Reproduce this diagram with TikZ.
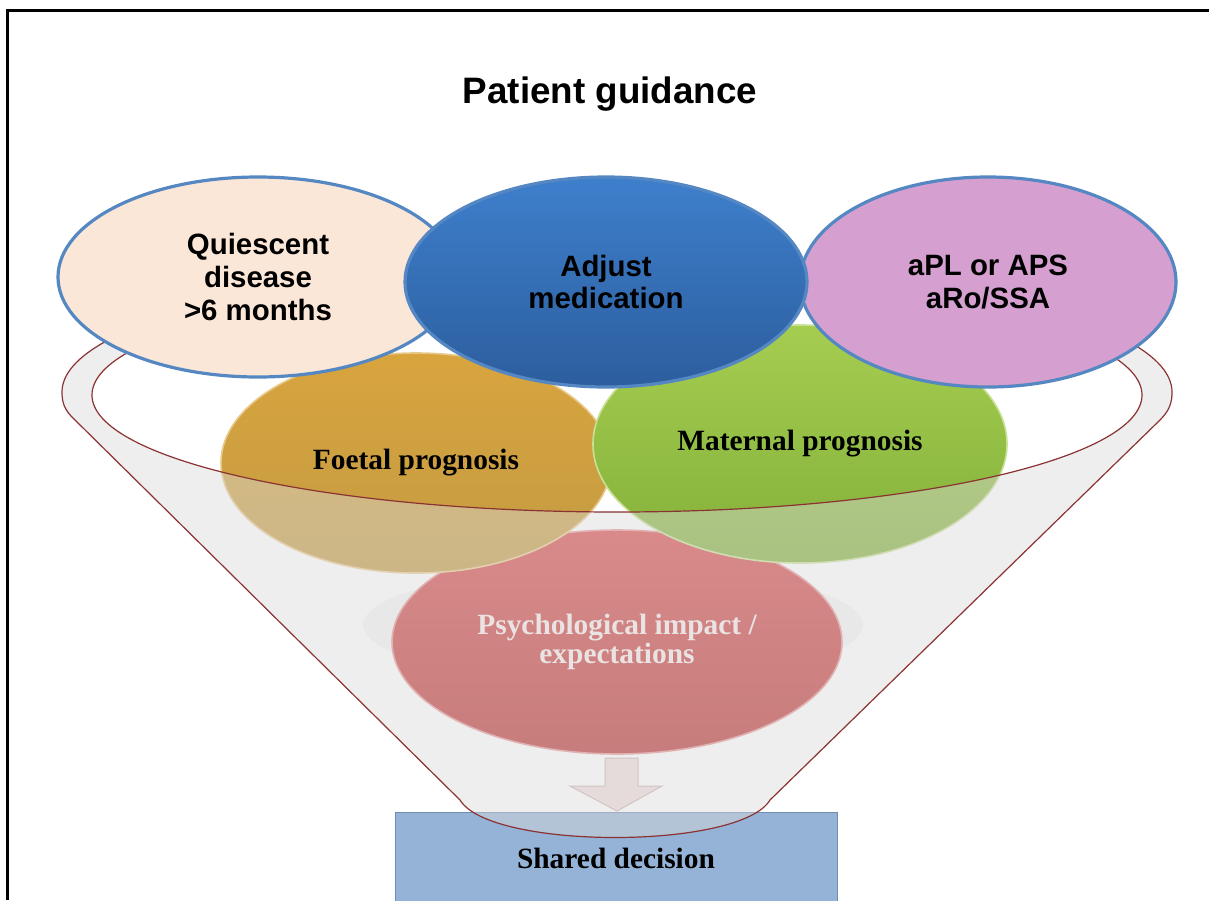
\documentclass[tikz,border=0pt]{standalone}
\usepackage{fontspec}
\setmainfont{Liberation Serif}
\setsansfont{Liberation Sans}
\usepackage{tikz}
\usetikzlibrary{shapes,arrows,positioning}

\definecolor{peach}{RGB}{251,231,216}
\definecolor{rimblue}{RGB}{85,135,195}
\definecolor{blueup}{RGB}{62,127,204}
\definecolor{bluedown}{RGB}{44,94,158}
\definecolor{orchid}{RGB}{213,160,208}
\definecolor{goldup}{RGB}{216,164,62}
\definecolor{golddown}{RGB}{195,155,67}
\definecolor{leafup}{RGB}{165,205,80}
\definecolor{leafdown}{RGB}{131,176,58}
\definecolor{roseup}{RGB}{218,73,73}
\definecolor{rosedown}{RGB}{185,49,49}
\definecolor{rosetext}{RGB}{248,236,236}
\definecolor{funnelgray}{RGB}{217,217,217}
\definecolor{funnelred}{RGB}{139,50,50}
\definecolor{shadegray}{RGB}{246,246,246}
\definecolor{arrowpink}{RGB}{242,222,221}
\definecolor{arrowedge}{RGB}{205,178,178}
\definecolor{boxblue}{RGB}{149,179,215}
\definecolor{boxedge}{RGB}{110,140,180}

\begin{document}
\begin{tikzpicture}[x=0.5pt, y=-0.5pt,
    topoval/.style={ellipse, draw=rimblue, line width=1.6pt, inner sep=0pt, align=center,
        font=\sffamily\bfseries\fontsize{14.7}{16.4}\selectfont},
    midoval/.style={ellipse, line width=0.8pt, inner sep=0pt, align=center,
        font=\bfseries\fontsize{14.7}{14.8}\selectfont}]
    \useasboundingbox (0,0) rectangle (1209,900);
    \draw [line width=1.5pt] (7,900) -- (7,10) -- (1209,10);

    \node [font=\sffamily\bfseries\fontsize{18.4}{22}\selectfont] (title) at (610,94) {Patient guidance};

    % things sitting inside the funnel
    \node [ellipse, fill=shadegray, minimum width=250pt, minimum height=58pt] (shade) at (613,625) {};
    \node [rectangle, fill=boxblue, draw=boxedge, minimum width=221pt, minimum height=46pt,
        font=\bfseries\fontsize{14.7}{16}\selectfont] (shared) at (616,858) {Shared decision};
    \path [fill=arrowpink, draw=arrowedge, line width=0.5pt] (605,758) -- (638,758) -- (638,786)
        -- (662,786) -- (617,811) -- (570,786) -- (605,786) -- cycle;
    \node [midoval, top color=roseup, bottom color=rosedown, draw=roseup!60!white, text=rosetext,
        minimum width=225pt, minimum height=112pt] (psych) at (617,642) {Psychological impact /\\expectations};
    \node [midoval, top color=goldup, bottom color=golddown, draw=goldup!60!white,
        minimum width=195pt, minimum height=110pt] (foetal) at (416,463) {Foetal prognosis};
    \node [midoval, top color=leafup, bottom color=leafdown, draw=leafup!60!white,
        minimum width=207pt, minimum height=119pt] (maternal) at (800,444) {Maternal prognosis};

    % funnel front, the rim opening left clear
    \path [draw=funnelred, line width=0.6pt, fill=funnelgray, fill opacity=0.45, even odd rule]
        (62,392) arc [start angle=180, end angle=360, x radius=555, y radius=130]
        .. controls (1172,402) and (1170,410) .. (1160,420) -- (770,800)
        .. controls (740,850) and (490,850) .. (460,800) -- (75,420)
        .. controls (64,410) and (62,402) .. (62,392) -- cycle
        (617,395) ellipse [x radius=525, y radius=117];

    \node [topoval, fill=peach, minimum width=200pt, minimum height=100pt] (quiescent) at (258,277)
        {Quiescent\\disease\\>6 months};
    \node [topoval, fill=orchid, minimum width=188pt, minimum height=105pt] (apl) at (988,282)
        {aPL or APS\\aRo/SSA};
    \node [topoval, top color=blueup, bottom color=bluedown, minimum width=201pt, minimum height=105pt] (adjust) at (606,282)
        {Adjust\\medication};
\end{tikzpicture}
\end{document}
